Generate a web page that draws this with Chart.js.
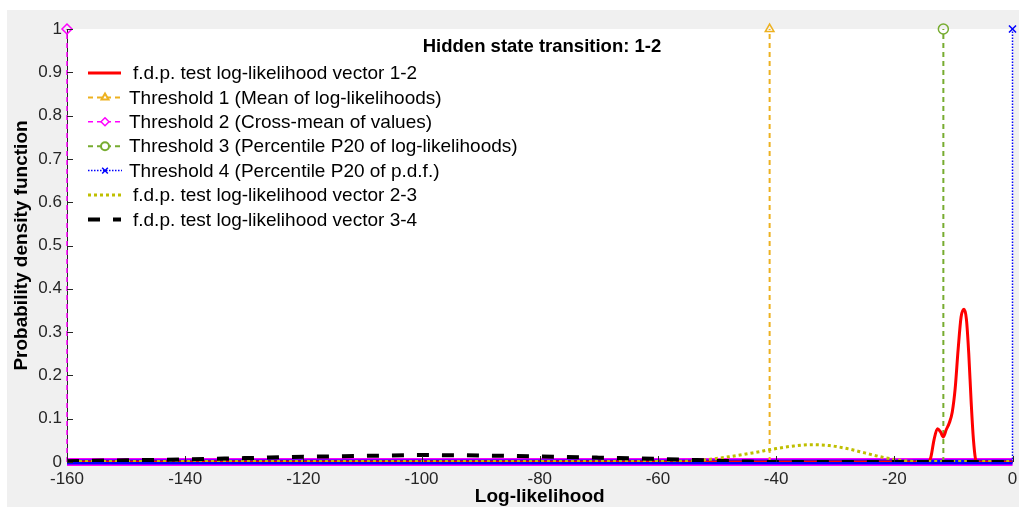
<!DOCTYPE html>
<html>
<head>
<meta charset="utf-8">
<script src="https://cdn.jsdelivr.net/npm/chart.js@4"></script>
<style>
  body { margin: 0; background: #fff; }
  canvas { display: block; }
</style>
</head>
<body>
<canvas id="myChart" width="1019" height="507"></canvas>
<script>
// pdf curves (log-likelihood vs density)
var redX = [-160, -14.3, -13.8, -13.3, -12.7, -12.2, -11.7, -11.2, -10.7, -10.2, -9.7, -9.2, -8.7, -8.2, -7.8, -7.4, -7.0, -6.6, -6.1, 0];
var redY = [0, 0, 0.012, 0.05, 0.077, 0.07, 0.058, 0.075, 0.09, 0.115, 0.17, 0.26, 0.335, 0.353, 0.33, 0.25, 0.14, 0.05, 0, 0];

var yelX = [-160, -60, -55, -52, -48, -44, -40, -37, -34, -31, -28, -25, -22, -19, -16, 0];
var yelY = [0.001, 0.001, 0.002, 0.005, 0.012, 0.021, 0.031, 0.037, 0.04, 0.038, 0.031, 0.021, 0.011, 0.004, 0.001, 0.001];

var blkX = [-160, -150, -140, -130, -120, -110, -100, -90, -80, -70, -60, -50, -45, -40, 0];
var blkY = [0.002, 0.004, 0.006, 0.009, 0.012, 0.014, 0.016, 0.015, 0.013, 0.01, 0.007, 0.003, 0.001, 0, 0];

// thresholds (vertical lines)
var thresholds = [-41.1, -160, -11.7, 0];
var thresholdNames = [
  "Threshold 1 (Mean of log-likelihoods)",
  "Threshold 2 (Cross-mean of values)",
  "Threshold 3 (Percentile P20 of log-likelihoods)",
  "Threshold 4 (Percentile P20 of p.d.f.)"
];
var thrColors = ["#EDB120", "#FF00FF", "#77AC30", "#0000FF"];
var thrMarkers = ["triangle", "rectRot", "circle", "crossRot"];

var xTicks = [-160, -140, -120, -100, -80, -60, -40, -20, 0];
var yTicks = [0, 0.1, 0.2, 0.3, 0.4, 0.5, 0.6, 0.7, 0.8, 0.9, 1];

var FONT = "'Liberation Sans', Arial, sans-serif";

function pts(xs, ys) {
  return xs.map(function (x, i) { return { x: x, y: ys[i] }; });
}

var datasets = [];

// baseline bands along zero
datasets.push({ label: "base2", data: pts([-160, 0], [0, 0]), borderColor: "#FF00FF", borderWidth: 8, pointRadius: 0, showLine: true, clip: false, order: 20 });
datasets.push({ label: "base4", data: pts([-160, 0], [0, 0]), borderColor: "#0000FF", borderWidth: 5, pointRadius: 0, showLine: true, clip: false, order: 19 });

datasets.push({ label: "f.d.p. test log-likelihood vector 1-2", data: pts(redX, redY), borderColor: "#FF0000", borderWidth: 3, pointRadius: 0, showLine: true, cubicInterpolationMode: "monotone", order: 5 });

var thrDash = [[5, 4], [5, 4], [5, 4], [1.5, 1.5]];
var thrWidth = [2, 1.5, 2, 1.5];
thresholds.forEach(function (t, i) {
  datasets.push({
    label: thresholdNames[i],
    data: pts([t, t], [0, 1]),
    borderColor: thrColors[i],
    borderWidth: thrWidth[i],
    borderDash: thrDash[i],
    showLine: true,
    pointStyle: thrMarkers[i],
    pointRadius: function (c) { return c.dataIndex === 1 ? 5 : 0; },
    pointBorderColor: thrColors[i],
    pointBackgroundColor: "rgba(0,0,0,0)",
    pointBorderWidth: 1.5,
    clip: false,
    order: 10 + i
  });
});

datasets.push({ label: "f.d.p. test log-likelihood vector 2-3", data: pts(yelX, yelY), borderColor: "#BFBF00", borderWidth: 3, borderDash: [3, 3], pointRadius: 0, showLine: true, cubicInterpolationMode: "monotone", order: 3 });
datasets.push({ label: "f.d.p. test log-likelihood vector 3-4", data: pts(blkX, blkY), borderColor: "#000000", borderWidth: 4, borderDash: [12, 13], pointRadius: 0, showLine: true, cubicInterpolationMode: "monotone", order: 2 });

// legend order: red, thr1..4, yellow, black
var legendIdx = [2, 3, 4, 5, 6, 7, 8];

var decor = {
  id: "decor",
  beforeDraw: function (chart) {
    var c = chart.ctx, a = chart.chartArea;
    c.save();
    c.fillStyle = "#F0F0F0";
    c.fillRect(0, 0, chart.width, chart.height);
    c.fillStyle = "#FFFFFF";
    c.fillRect(0, 0, chart.width, 10);
    c.fillRect(0, 0, 7, chart.height);
    c.fillRect(a.left, a.top, a.right - a.left, a.bottom - a.top);
    c.restore();
  },
  afterDatasetsDraw: function (chart) {
    var c = chart.ctx, a = chart.chartArea;
    var xs = chart.scales.x, ys = chart.scales.y;
    c.save();
    // inward ticks
    c.strokeStyle = "#262626";
    c.lineWidth = 1;
    c.setLineDash([]);
    yTicks.forEach(function (v) {
      var y = Math.round(ys.getPixelForValue(v)) + 0.5;
      c.beginPath(); c.moveTo(a.left, y); c.lineTo(a.left + 6, y); c.stroke();
    });
    xTicks.forEach(function (v) {
      var x = Math.round(xs.getPixelForValue(v)) + 0.5;
      c.beginPath(); c.moveTo(x, a.bottom); c.lineTo(x, a.bottom - 6); c.stroke();
    });

    // title
    c.fillStyle = "#000";
    c.font = "bold 18.5px " + FONT;
    c.textAlign = "center";
    c.textBaseline = "middle";
    c.fillText("Hidden state transition: 1-2", 542, 47);

    // legend
    c.font = "19px " + FONT;
    c.textAlign = "left";
    legendIdx.forEach(function (di, k) {
      var ds = chart.data.datasets[di];
      var y = 73 + k * 24.4;
      var isThr = k >= 1 && k <= 4;
      c.strokeStyle = ds.borderColor;
      c.lineWidth = ds.borderWidth;
      c.setLineDash(ds.borderDash || []);
      c.beginPath(); c.moveTo(88, y); c.lineTo(isThr ? 122 : 121, y); c.stroke();
      c.setLineDash([]);
      if (isThr) {
        c.fillStyle = "#FFFFFF";
        c.strokeStyle = ds.borderColor;
        Chart.helpers.drawPoint(c, { pointStyle: ds.pointStyle, radius: 4, rotation: 0, borderWidth: 1.5 }, 105, y);
      }
      c.fillStyle = "#000";
      c.fillText(ds.label, isThr ? 129 : 133, y + 1);
    });
    c.restore();
  }
};

new Chart("myChart", {
  type: "scatter",
  data: { datasets: datasets },
  options: {
    responsive: false,
    animation: false,
    devicePixelRatio: 1,
    layout: { padding: { top: 29, right: 5, left: 0, bottom: 0 } },
    plugins: { legend: { display: false }, tooltip: { enabled: false } },
    scales: {
      x: {
        type: "linear", min: -160, max: 0,
        afterBuildTicks: function (s) { s.ticks = xTicks.map(function (v) { return { value: v }; }); },
        ticks: { color: "#262626", padding: 7, font: { family: FONT, size: 17 } },
        grid: { display: false, drawTicks: false },
        border: { display: true, color: "#262626" },
        title: { display: true, text: "Log-likelihood", color: "#000", padding: { top: 0, bottom: 0 }, font: { family: FONT, size: 19, weight: "bold", lineHeight: 1.1 } },
        afterFit: function (s) { s.height = 45; s.paddingLeft = 0; s.paddingRight = 0; }
      },
      y: {
        min: 0, max: 1,
        afterBuildTicks: function (s) { s.ticks = yTicks.map(function (v) { return { value: v }; }); },
        ticks: {
          color: "#262626", padding: 5, font: { family: FONT, size: 17 },
          callback: function (v) { return String(Math.round(v * 10) / 10); }
        },
        grid: { display: false, drawTicks: false },
        border: { display: true, color: "#262626" },
        title: { display: true, text: "Probability density function", color: "#000", padding: { top: 10, bottom: 0 }, font: { family: FONT, size: 19, weight: "bold" } },
        afterFit: function (s) { s.width = 67; s.paddingTop = 0; s.paddingBottom = 0; }
      }
    }
  },
  plugins: [decor]
});
</script>
</body>
</html>
